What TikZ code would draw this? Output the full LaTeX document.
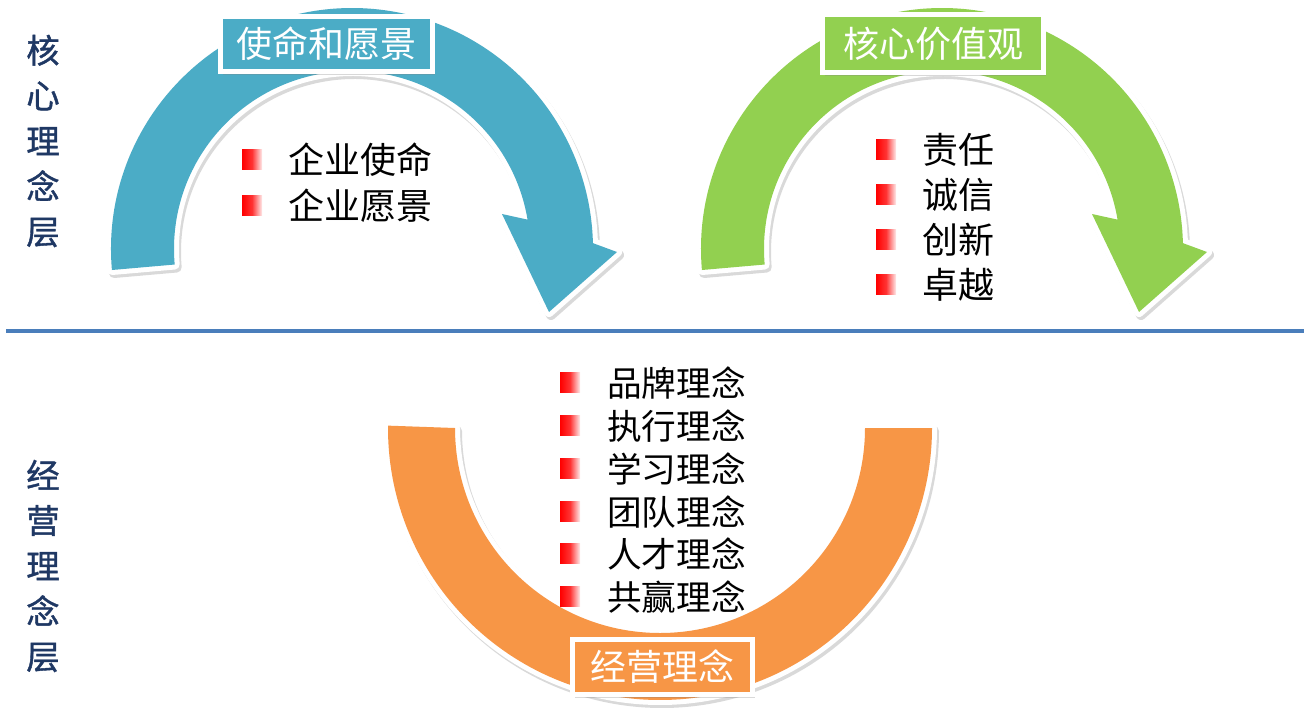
\documentclass[tikz,border=0pt]{standalone}
\usepackage{fontspec}
\newfontfamily\cjk{Noto Sans CJK SC}
\newfontfamily\cjkbold[FakeBold=1.2]{Noto Sans CJK SC}
\usetikzlibrary{shadows}
\definecolor{cblue}{HTML}{4BACC6}
\definecolor{cgreen}{HTML}{92D050}
\definecolor{corange}{HTML}{F79646}
\definecolor{cnavy}{HTML}{1F3864}
\definecolor{cline}{HTML}{4A7EBB}
\newcommand\arrowshape{([shift={(352,249)}]175:241) arc[start angle=175, end angle=358.6, radius=241] -- (617,252) -- (549,312) -- (502,214) -- ([shift={(352,249)}]350.5:178) arc[start angle=350.5, end angle=175, radius=178] -- cycle}
\newcommand\ringshape{([shift={(660,428)}]180.5:272) arc[start angle=180.5, end angle=0, radius=272] -- ([shift={(660,428)}]0:205) arc[start angle=0, end angle=180, radius=205] -- cycle}
\tikzset{
  shapeshadow/.style={fill=black!15, draw=black!15, line width=7.5pt, line join=round},
  shapeborder/.style={draw=white, line width=7.5pt, line join=round},
  tagbox/.style={draw=white, line width=3.75pt, text=white, inner sep=0pt,
    font=\cjk\fontsize{27}{30}\selectfont,
    drop shadow={opacity=0.3, shadow xshift=2pt, shadow yshift=-2.5pt}},
  bullet/.style={minimum width=15pt, minimum height=15pt, inner sep=0pt,
    left color=red, right color=red!8, middle color=red!80},
  item/.style={anchor=west, inner sep=0pt, text=black, font=\cjk\fontsize{27}{30}\selectfont},
  oitem/.style={anchor=west, inner sep=0pt, text=black, font=\cjk\fontsize{26}{30}\selectfont},
  layer/.style={align=center, text=cnavy, inner sep=0pt, font=\cjkbold\fontsize{25}{34}\selectfont}
}
\begin{document}
\begin{tikzpicture}[x=0.75pt, y=-0.75pt]
\useasboundingbox (0,0) rectangle (1306,722);
% separator
\coordinate (sepL) at (6,331);
\coordinate (sepR) at (1304,331);
\draw[cline, line width=2.6pt] (sepL) -- (sepR);
% left labels
\node[layer] (coreLayer) at (43,141) {核\\心\\理\\念\\层};
\node[layer] (opLayer) at (43,566) {经\\营\\理\\念\\层};
% blue arrow
\begin{scope}[shift={(2,3)}]\path[shapeshadow] \arrowshape;\end{scope}
\path[shapeborder] \arrowshape;
\fill[cblue] \arrowshape;
% green arrow
\begin{scope}[shift={(590,0)}]
\begin{scope}[shift={(2,3)}]\path[shapeshadow] \arrowshape;\end{scope}
\path[shapeborder] \arrowshape;
\fill[cgreen] \arrowshape;
\end{scope}
% orange ring
\begin{scope}[shift={(2,3)}]\path[shapeshadow] \ringshape;\end{scope}
\path[shapeborder] \ringshape;
\fill[corange] \ringshape;
% tags
\node[tagbox, fill=cblue, minimum width=159pt, minimum height=41.25pt] (tagBlue) at (326.5,44) {使命和愿景};
\node[tagbox, fill=cgreen, minimum width=165.75pt, minimum height=43.5pt] (tagGreen) at (933,43.5) {核心价值观};
\node[tagbox, fill=corange, minimum width=135pt, minimum height=41.25pt] (tagOrange) at (662.5,667) {经营理念};
% blue list
\node[bullet] (bb1) at (252,159) {};
\node[item] (bt1) at (288,160) {企业使命};
\node[bullet] (bb2) at (252,205) {};
\node[item] (bt2) at (288,206) {企业愿景};
% green list
\node[bullet] (gb1) at (886,149) {};
\node[item] (gt1) at (922,150) {责任};
\node[bullet] (gb2) at (886,194) {};
\node[item] (gt2) at (922,195) {诚信};
\node[bullet] (gb3) at (886,239) {};
\node[item] (gt3) at (922,240) {创新};
\node[bullet] (gb4) at (886,284) {};
\node[item] (gt4) at (922,285) {卓越};
% orange list
\node[bullet] (ob1) at (570,382) {};
\node[oitem] (ot1) at (607,383) {品牌理念};
\node[bullet] (ob2) at (570,425) {};
\node[oitem] (ot2) at (607,426) {执行理念};
\node[bullet] (ob3) at (570,468) {};
\node[oitem] (ot3) at (607,469) {学习理念};
\node[bullet] (ob4) at (570,511) {};
\node[oitem] (ot4) at (607,512) {团队理念};
\node[bullet] (ob5) at (570,553) {};
\node[oitem] (ot5) at (607,554) {人才理念};
\node[bullet] (ob6) at (570,596) {};
\node[oitem] (ot6) at (607,597) {共赢理念};
\end{tikzpicture}
\end{document}
